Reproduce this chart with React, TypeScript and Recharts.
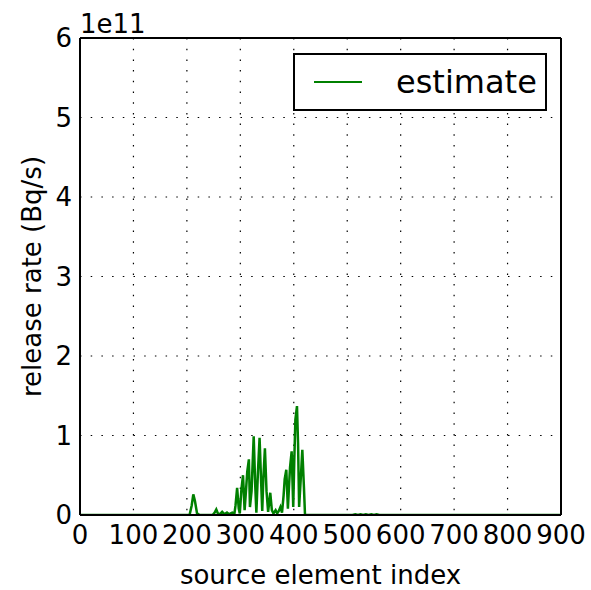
import React from 'react';
import { LineChart, Line, XAxis, YAxis, CartesianGrid, Legend } from 'recharts';

// source element index (x) and estimated release rate in units of 1e11 Bq/s (y)
const sourceIndex = [
  0, 205, 209, 212, 215, 219, 224, 248, 252, 255,
  258, 262, 266, 270, 275, 279, 285, 289, 291, 294,
  297, 299, 302, 305, 308, 310, 313, 316, 318, 321,
  325, 328, 330, 333, 336, 339, 341, 343, 346, 349,
  352, 356, 359, 362, 366, 369, 372, 375, 378, 381,
  383, 386, 389, 391, 393, 396, 399, 401, 403, 406,
  408, 410, 413, 416, 419, 421, 510, 515, 520, 525,
  530, 535, 540, 545, 550, 555, 560, 900,
];
const releaseRate = [
  0, 0, 0.12, 0.26, 0.18, 0.02, 0, 0, 0.03, 0.07,
  0.02, 0.01, 0.04, 0.01, 0.03, 0.01, 0.03, 0.02, 0.12, 0.34,
  0.08, 0.02, 0.32, 0.5, 0.06, 0.25, 0.55, 0.7, 0.1, 0.3,
  0.99, 0.35, 0.03, 0.55, 0.97, 0.4, 0.05, 0.45, 0.84, 0.3,
  0.04, 0.28, 0.06, 0.02, 0.06, 0.02, 0.05, 0.1, 0.03, 0.25,
  0.45, 0.57, 0.08, 0.35, 0.6, 0.8, 0.1, 0.7, 1.2, 1.37,
  0.9, 0.1, 0.45, 0.82, 0.35, 0, 0, 0.01, 0, 0.01,
  0, 0.01, 0, 0.01, 0, 0.01, 0, 0,
];
const xTicks = [0, 100, 200, 300, 400, 500, 600, 700, 800, 900];
const yTicks = [0, 1, 2, 3, 4, 5, 6];

const data = sourceIndex.map((idx, i) => ({ index: idx, rate: releaseRate[i] }));

const FONT = '"DejaVu Sans", sans-serif';
const tickFont = { fill: '#000', fontSize: 26, fontFamily: FONT };
const frame = { stroke: '#000', strokeWidth: 2 };
const tickStroke = { stroke: '#000', strokeWidth: 1.5 };

const AxisTitles = (props: any) => {
  const { viewBox } = props;
  const cx = viewBox.x + 32;
  const cy = viewBox.y + viewBox.height / 2;
  return (
    <g fontFamily={FONT} fill="#000">
      <text
        x={cx}
        y={cy}
        transform={`rotate(-90 ${cx} ${cy})`}
        textAnchor="middle"
        dominantBaseline="central"
        fontSize={26}
      >
        release rate (Bq/s)
      </text>
      <text x={viewBox.x + viewBox.width} y={viewBox.y - 5} fontSize={26}>
        1e11
      </text>
    </g>
  );
};

const LegendBox = () => (
  <div
    style={{
      width: 254,
      height: 58,
      boxSizing: 'border-box',
      border: '2px solid #000',
      background: '#fff',
      display: 'flex',
      alignItems: 'center',
      fontFamily: FONT,
      fontSize: 32,
      color: '#000',
    }}
  >
    <div style={{ marginLeft: 19, width: 48, height: 2.5, background: '#008000' }} />
    <span style={{ marginLeft: 34 }}>estimate</span>
  </div>
);

const App: React.FC = () => {
  return (
    <div style={{ position: 'absolute', left: 0, top: 0, width: 591, height: 590, background: '#fff' }}>
      <LineChart width={591} height={590} data={data} margin={{ top: 38, right: 30, bottom: 0, left: 0 }}>
        <CartesianGrid
          xAxisId="x"
          yAxisId="y"
          stroke="#000"
          strokeWidth={1.2}
          strokeDasharray="1.5 9.2"
        />
        <XAxis
          xAxisId="x"
          dataKey="index"
          type="number"
          domain={[0, 900]}
          ticks={xTicks}
          allowDataOverflow
          height={75}
          tick={tickFont}
          tickLine={false}
          tickSize={0}
          tickMargin={11}
          axisLine={frame}
          label={{ value: 'source element index', position: 'insideBottom', offset: 6, fill: '#000', fontSize: 26, fontFamily: FONT }}
        />
        <XAxis
          xAxisId="xb"
          type="number"
          domain={[0, 900]}
          ticks={xTicks}
          allowDataOverflow
          mirror
          tick={false}
          tickSize={8}
          tickLine={tickStroke}
          axisLine={false}
        />
        <XAxis
          xAxisId="xt"
          orientation="top"
          type="number"
          domain={[0, 900]}
          ticks={xTicks}
          allowDataOverflow
          mirror
          tick={false}
          tickSize={8}
          tickLine={tickStroke}
          axisLine={frame}
        />
        <YAxis
          yAxisId="y"
          type="number"
          domain={[0, 6]}
          ticks={yTicks}
          allowDataOverflow
          width={80}
          tick={tickFont}
          tickLine={false}
          tickSize={0}
          tickMargin={8}
          axisLine={frame}
          label={{ content: AxisTitles }}
        />
        <YAxis
          yAxisId="yl"
          type="number"
          domain={[0, 6]}
          ticks={yTicks}
          allowDataOverflow
          mirror
          tick={false}
          tickSize={9}
          tickLine={tickStroke}
          axisLine={false}
        />
        <YAxis
          yAxisId="yr"
          orientation="right"
          type="number"
          domain={[0, 6]}
          ticks={yTicks}
          allowDataOverflow
          mirror
          tick={false}
          tickSize={9}
          tickLine={tickStroke}
          axisLine={frame}
        />
        <Legend
          layout="horizontal"
          verticalAlign="middle"
          align="center"
          content={LegendBox}
          wrapperStyle={{ position: 'absolute', top: 53, left: 293, width: 254, height: 58 }}
        />
        <Line
          xAxisId="x"
          yAxisId="y"
          type="linear"
          dataKey="rate"
          stroke="#008000"
          strokeWidth={2.5}
          dot={false}
          activeDot={false}
          isAnimationActive={false}
          name="estimate"
        />
      </LineChart>
    </div>
  );
};

export default App;
